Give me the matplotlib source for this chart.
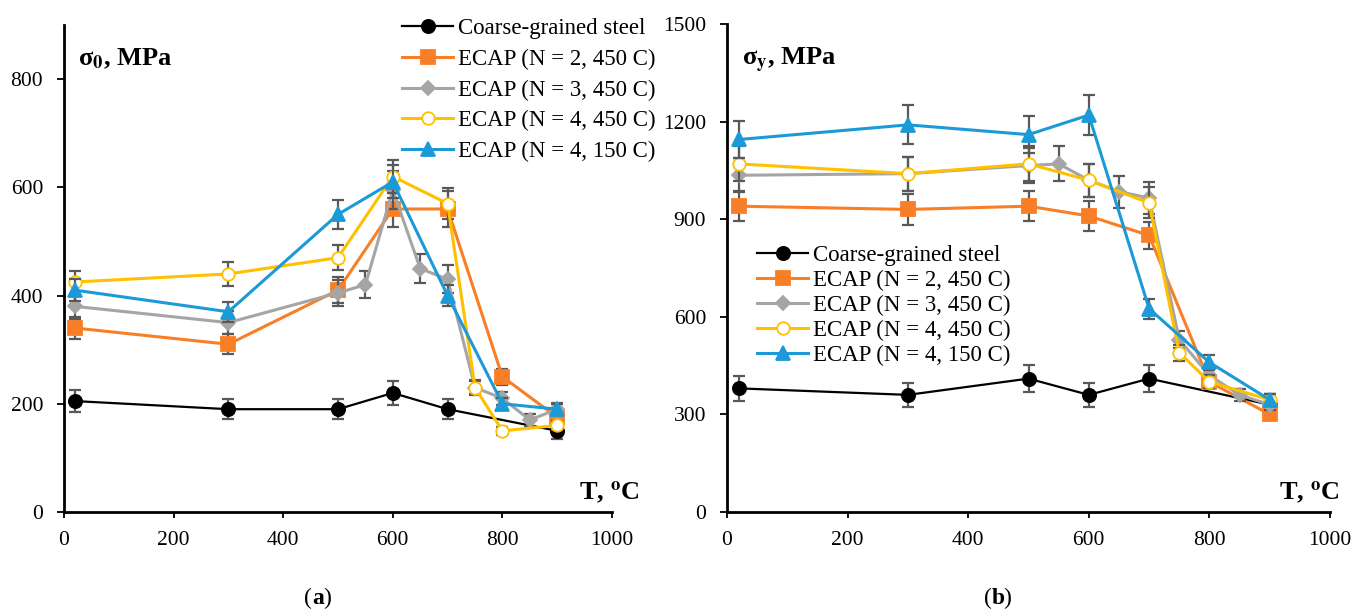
import matplotlib
matplotlib.use("Agg")
import matplotlib.pyplot as plt
import numpy as np

plt.rcParams['font.family'] = ['Liberation Serif', 'DejaVu Serif']
plt.rcParams['mathtext.fontset'] = 'stix'

# ---------------- data ----------------
labels = ["Coarse-grained steel", "ECAP (N = 2, 450 C)", "ECAP (N = 3, 450 C)",
          "ECAP (N = 4, 450 C)", "ECAP (N = 4, 150 C)"]

# (a) sigma_0
a_coarse_T = [20, 300, 500, 600, 700, 900]
a_coarse_v = [205, 190, 190, 220, 190, 150]
a_n2_T = [20, 300, 500, 600, 700, 800, 900]
a_n2_v = [340, 310, 410, 560, 560, 250, 175]
a_n3_T = [20, 300, 500, 550, 600, 650, 700, 750, 800, 850, 900]
a_n3_v = [380, 350, 405, 420, 595, 450, 430, 230, 210, 170, 190]
a_n4_T = [20, 300, 500, 600, 700, 750, 800, 900]
a_n4_v = [425, 440, 470, 620, 570, 230, 150, 160]
a_n4c_T = [20, 300, 500, 600, 700, 800, 900]
a_n4c_v = [410, 370, 550, 610, 400, 200, 190]

# (b) sigma_y
b_coarse_T = [20, 300, 500, 600, 700, 900]
b_coarse_v = [380, 360, 410, 360, 410, 330]
b_n2_T = [20, 300, 500, 600, 700, 800, 900]
b_n2_v = [940, 930, 940, 910, 850, 400, 300]
b_n3_T = [20, 300, 500, 550, 600, 650, 700, 750, 800, 850, 900]
b_n3_v = [1035, 1040, 1065, 1070, 1020, 985, 965, 530, 420, 360, 330]
b_n4_T = [20, 300, 500, 600, 700, 750, 800, 900]
b_n4_v = [1070, 1040, 1070, 1020, 950, 490, 400, 345]
b_n4c_T = [20, 300, 500, 600, 700, 800, 900]
b_n4c_v = [1145, 1190, 1160, 1220, 625, 460, 345]

# relative error bars (percentage error bars)
a_err_rel = [0.10, 0.06, 0.06, 0.05, 0.05]
b_err_rel = [0.10, 0.05, 0.05, 0.05, 0.05]

# ---------------- style ----------------
colors = ["#000000", "#F97F26", "#A5A5A5", "#FFC000", "#1B9AD7"]
markers = ["o", "s", "D", "o", "^"]
msizes = [9.5, 9.5, 7, 9, 9.5]
mfaces = ["#000000", "#F97F26", "#A5A5A5", "white", "#1B9AD7"]
lws = [1.6, 2.2, 2.2, 2.2, 2.2]
ecolor = "#595959"

fig = plt.figure(figsize=(13.65, 6.09), dpi=100)
axA = fig.add_axes([64/1365, 1-512/609, (612-64)/1365, (512-25)/609])
axB = fig.add_axes([727/1365, 1-512/609, (1330-727)/1365, (512-24)/609])


def draw(ax, series, rels):
    handles = []
    for i, (T, v) in enumerate(series):
        T = np.array(T); v = np.array(v, dtype=float)
        ax.errorbar(T, v, yerr=v*rels[i], fmt='none', ecolor=ecolor,
                    elinewidth=1.6, capsize=4, capthick=1.6, zorder=2+i*2)
        h, = ax.plot(T, v, color=colors[i], lw=lws[i], marker=markers[i],
                     ms=msizes[i], mfc=mfaces[i], mec=colors[i],
                     mew=1.3, zorder=3+i*2, label=labels[i])
        handles.append(h)
    ax.set_xlim(0, 1000)
    ax.set_xticks(range(0, 1001, 200))
    for s in ['top', 'right']:
        ax.spines[s].set_visible(False)
    for s in ['left', 'bottom']:
        ax.spines[s].set_linewidth(2)
    ax.tick_params(axis='x', direction='out', length=4.5, width=1.3,
                   labelsize=15.5, pad=9)
    ax.tick_params(axis='y', direction='out', length=5, width=1.3,
                   labelsize=15.5, pad=10)
    ax.set_facecolor('none')
    return handles

hA = draw(axA, [(a_coarse_T, a_coarse_v), (a_n2_T, a_n2_v), (a_n3_T, a_n3_v),
                (a_n4_T, a_n4_v), (a_n4c_T, a_n4c_v)], a_err_rel)
axA.set_ylim(0, 900)
axA.set_yticks(range(0, 801, 200))

hB = draw(axB, [(b_coarse_T, b_coarse_v), (b_n2_T, b_n2_v), (b_n3_T, b_n3_v),
                (b_n4_T, b_n4_v), (b_n4c_T, b_n4c_v)], b_err_rel)
axB.set_ylim(0, 1500)
axB.set_yticks(range(0, 1501, 300))

axA.text(0.025, 0.955, r'σ$_\mathbf{0}$, MPa', transform=axA.transAxes,
         fontsize=19, fontweight='bold', va='top', ha='left')
axB.text(0.025, 0.955, r'σ$_\mathbf{y}$, MPa', transform=axB.transAxes,
         fontsize=19, fontweight='bold', va='top', ha='left')
axA.text(1 + 28/548, 12/487, r'T, $\mathbf{^o}$C', transform=axA.transAxes,
         fontsize=19, fontweight='bold', va='baseline', ha='right')
axB.text(1 + 10/603, 12/488, r'T, $\mathbf{^o}$C', transform=axB.transAxes,
         fontsize=19, fontweight='bold', va='baseline', ha='right')

ycap = 1 - 598/609
fig.text(312/1365, ycap, r'(', fontsize=17, ha='right', va='center')
fig.text(312/1365, ycap, r'a', fontsize=17, ha='left', va='center', fontweight='bold')
fig.text(323/1365, ycap, r')', fontsize=17, ha='left', va='center')
fig.text(992/1365, ycap, r'(', fontsize=17, ha='right', va='center')
fig.text(992/1365, ycap, r'b', fontsize=17, ha='left', va='center', fontweight='bold')
fig.text(1003/1365, ycap, r')', fontsize=17, ha='left', va='center')

legA = fig.legend(handles=hA, loc='upper left', bbox_to_anchor=(402/1365, 1-18/609),
                  frameon=False, fontsize=16.5, handlelength=2.23, labelspacing=0.42,
                  handletextpad=0.22, borderpad=0, borderaxespad=0)
legB = fig.legend(handles=hB, loc='upper left', bbox_to_anchor=(757/1365, 1-245/609),
                  frameon=False, fontsize=16.5, handlelength=2.23, labelspacing=0.17,
                  handletextpad=0.22, borderpad=0, borderaxespad=0)

fig.savefig("out.png", dpi=100)
